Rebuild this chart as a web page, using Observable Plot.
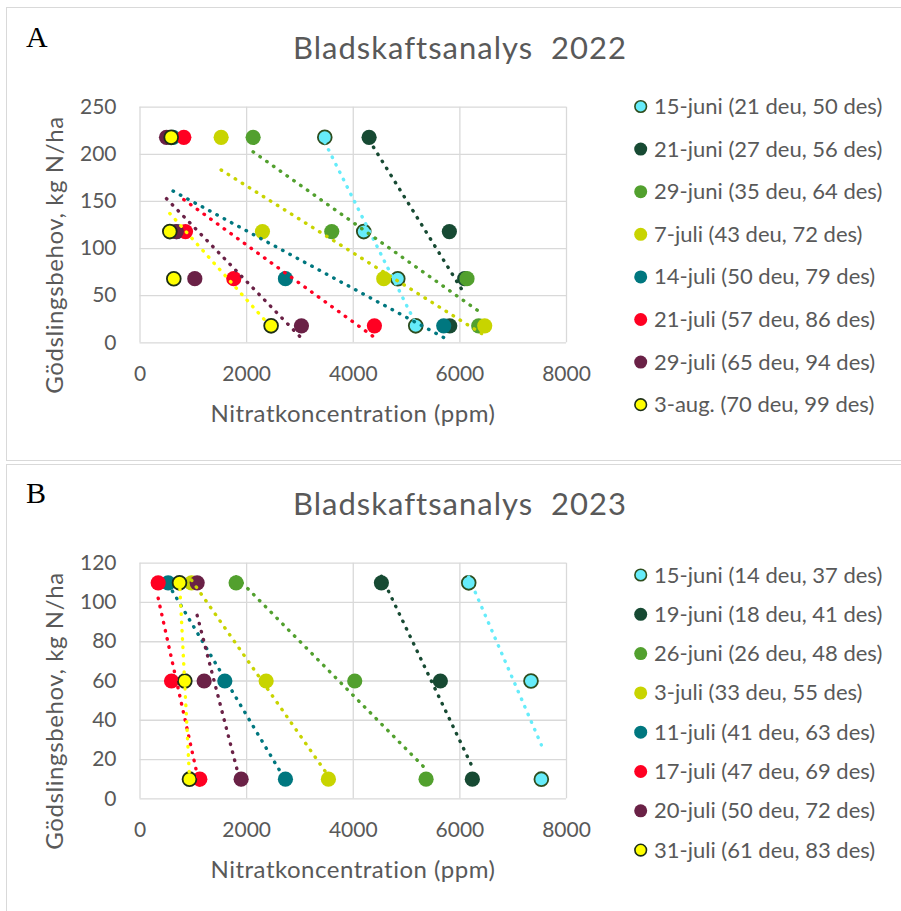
<!DOCTYPE html>
<html><head><meta charset="utf-8">
<script src="https://cdn.jsdelivr.net/npm/d3@7"></script>
<script src="https://cdn.jsdelivr.net/npm/@observablehq/plot@0.6"></script>
<style>
body{margin:0;background:#fff;}
#page{position:relative;width:901px;height:911px;overflow:hidden;background:#fff;}
.box{position:absolute;left:6px;width:905px;border:1.3px solid #d9d9d9;box-sizing:border-box;}
.plotwrap{position:absolute;left:0;width:600px;height:440px;}
.plotwrap svg{max-width:none !important;}
#overlay{position:absolute;left:0;top:0;}
#overlay text{white-space:pre;}
</style>
</head><body>
<div id="page">
  <div class="box" style="top:7px;height:454px;"></div>
  <div class="box" style="top:464px;height:460px;"></div>
  <div class="plotwrap" id="pa" style="top:0px;"></div>
  <div class="plotwrap" id="pb" style="top:456px;"></div>
  <svg id="overlay" width="901" height="911"></svg>
</div>
<script>
// ---------- data ----------
const colors = ["#66ECFA", "#174A33", "#52A02E", "#C8D400", "#00777F", "#FF0022", "#6A2146", "#FFFF00"];
const outlines = ["#2E4D1E", null, null, null, null, null, null, "#1C2E16"];

const xTicks = [0, 2000, 4000, 6000, 8000];

// Panel A (2022)
const titleA = "Bladskaftsanalys  2022";
const seriesA = ["15-juni (21 deu, 50 des)", "21-juni (27 deu, 56 des)", "29-juni (35 deu, 64 des)", "7-juli (43 deu, 72 des)",
                 "14-juli (50 deu, 79 des)", "21-juli (57 deu, 86 des)", "29-juli (65 deu, 94 des)", "3-aug. (70 deu, 99 des)"];
const nLevelsA = [218, 118, 68, 18];
const a15juni = [3466, 4197, 4835, 5172];
const a21juni = [4297, 5803, 6090, 5810];
const a29juni = [2122, 3597, 6134, 6353];
const a7juli  = [1522, 2297, 4572, 6466];
const a14juli = [620, 690, 2728, 5697];
const a21juli = [822, 853, 1759, 4397];
const a29juli = [497, 680, 1028, 3028];
const a3aug   = [585, 559, 634, 2459];
const yTicksA = [0, 50, 100, 150, 200, 250];

// Panel B (2023)
const titleB = "Bladskaftsanalys  2023";
const seriesB = ["15-juni (14 deu, 37 des)", "19-juni (18 deu, 41 des)", "26-juni (26 deu, 48 des)", "3-juli (33 deu, 55 des)",
                 "11-juli (41 deu, 63 des)", "17-juli (47 deu, 69 des)", "20-juli (50 deu, 72 des)", "31-juli (61 deu, 83 des)"];
const nLevelsB = [110, 60, 10];
const b15juni = [6166, 7334, 7528];
const b19juni = [4528, 5634, 6234];
const b26juni = [1803, 4028, 5366];
const b3juli  = [966, 2366, 3534];
const b11juli = [528, 1591, 2728];
const b17juli = [341, 591, 1122];
const b20juli = [1072, 1203, 1897];
const b31juli = [741, 841, 928];
const yTicksB = [0, 20, 40, 60, 80, 100, 120];

const xLabel = "Nitratkoncentration (ppm)";
const yLabel = "Gödslingsbehov, kg N/ha";

// ---------- drawing ----------
function panel(series, levels, values, yTicks) {
  const rows = [];
  series.forEach((s, i) => values[i].forEach((v, j) => rows.push({series: s, idx: i, x: v, y: levels[j]})));
  const marks = [
    Plot.ruleX(xTicks, {stroke: "#d9d9d9", strokeWidth: 1.3}),
    Plot.ruleY(yTicks, {stroke: "#d9d9d9", strokeWidth: 1.3})
  ];
  series.forEach((s, i) => {
    marks.push(Plot.dot(rows.filter(r => r.idx === i), {
      x: "x", y: "y", r: outlines[i] ? 6.9 : 7.6,
      fill: colors[i], stroke: outlines[i] || "none", strokeWidth: 1.8
    }));
  });
  series.forEach((s, i) => {
    marks.push(Plot.linearRegressionY(rows.filter(r => r.idx === i), {
      x: "x", y: "y", ci: 0, stroke: colors[i], strokeWidth: 3.4,
      strokeDasharray: "0.5 7.8", strokeLinecap: "round"
    }));
  });
  return Plot.plot({
    width: 600, height: 440,
    marginLeft: 139.5, marginRight: 34, marginTop: 106.7, marginBottom: 97.7,
    x: {domain: [0, 8000], ticks: xTicks, tickFormat: d => String(d), tickSize: 0, tickPadding: 23, label: null},
    y: {domain: [yTicks[0], yTicks[yTicks.length - 1]], ticks: yTicks, tickFormat: d => String(d), tickSize: 0, tickPadding: 23.5, label: null},
    style: {fontFamily: "Lato, sans-serif", fontSize: "21px", color: "#595959", background: "transparent", overflow: "visible"},
    marks
  });
}

document.getElementById("pa").append(panel(seriesA, nLevelsA, [a15juni, a21juni, a29juni, a7juli, a14juli, a21juli, a29juli, a3aug], yTicksA));
document.getElementById("pb").append(panel(seriesB, nLevelsB, [b15juni, b19juni, b26juni, b3juli, b11juli, b17juli, b20juli, b31juli], yTicksB));

// ---------- texts & legends ----------
const ov = d3.select("#overlay");
function texts(letter, title, series, dy, legTop, legStep) {
  ov.append("text").attr("x", 26).attr("y", 47 + dy).text(letter)
    .attr("font-family", "'Liberation Serif', 'Times New Roman', serif").attr("font-size", 30).attr("fill", "#000");
  ov.append("text").attr("x", 460).attr("y", 59 + dy).attr("text-anchor", "middle").attr("xml:space", "preserve").text(title)
    .attr("font-family", "Lato, sans-serif").attr("font-size", 31).attr("letter-spacing", 1).attr("fill", "#595959");
  ov.append("text").attr("x", 353).attr("y", 421.5 + dy).attr("text-anchor", "middle").text(xLabel)
    .attr("font-family", "Lato, sans-serif").attr("font-size", 24).attr("letter-spacing", 0.5).attr("fill", "#595959");
  ov.append("text").attr("transform", `translate(63,${255 + dy}) rotate(-90)`).attr("text-anchor", "middle").text(yLabel)
    .attr("font-family", "Lato, sans-serif").attr("font-size", 24).attr("letter-spacing", 0.6).attr("fill", "#595959");
  series.forEach((s, i) => {
    const cy = legTop + legStep * i;
    ov.append("circle").attr("cx", 640.7).attr("cy", cy).attr("r", outlines[i] ? 5.8 : 6.5)
      .attr("fill", colors[i]).attr("stroke", outlines[i] || "none").attr("stroke-width", 1.6);
    ov.append("text").attr("x", 654).attr("y", cy + 7.5).text(s)
      .attr("font-family", "Lato, sans-serif").attr("font-size", 22).attr("fill", "#595959");
  });
}
texts("A", titleA, seriesA, 0, 106.5, 42.6);
texts("B", titleB, seriesB, 456, 575, 39.3);
</script>
</body></html>
